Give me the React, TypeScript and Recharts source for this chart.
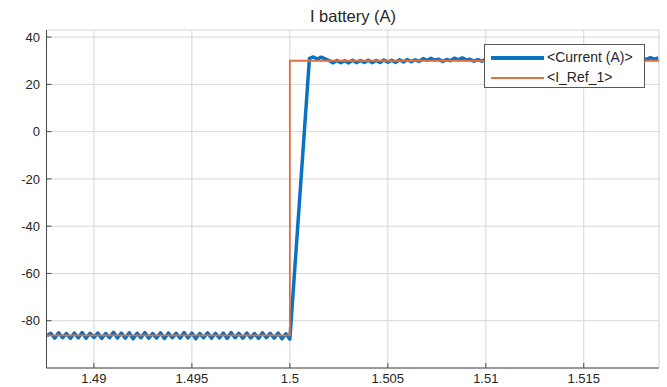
// App.tsx
// I battery (A): corriente medida vs referencia, estilo figura MATLAB
import React from "react";
import { LineChart, Line, XAxis, YAxis, CartesianGrid } from "recharts";

const BLUE = "#0b72c2";
const ORANGE = "#e2703e";
const AXIS = "#4a4a4a";
const GRID = "#d6d6d6";
const TEXT = "#262626";
const FONT = "'Liberation Sans', Arial, Helvetica, sans-serif";

// muestreo de la corriente (medio periodo del rizado)
const STEP = 0.0002;
const PRE_START = 1.4876;
const POST_START = 1.501;

// corriente antes del escalón, t = 1.4876 ... 1.5000
const preCurrent = [
    -86.4,
    -85.3, -87.4, -85.1, -87.2, -85.4, -87.5, -85.2, -87.3, -85.0, -87.4,
    -85.3, -87.1, -85.2, -87.5, -85.4, -87.2, -84.9, -87.3, -85.2, -87.4,
    -85.1, -87.6, -85.3, -87.2, -85.0, -87.4, -85.4, -87.3, -85.1, -87.5,
    -85.2, -87.2, -85.3, -87.4, -85.0, -87.3, -85.2, -87.6, -85.4, -87.2,
    -85.1, -87.4, -85.3, -87.3, -85.2, -87.5, -85.0, -87.2, -85.3, -87.4,
    -85.2, -87.3, -85.4, -87.5, -85.1, -87.2, -85.3, -87.4, -85.2, -87.6,
    -85.5, -87.8,
];

// corriente después de la rampa, t = 1.5010 ... 1.5188
const postCurrent = [
    31.0, 31.6, 30.7, 31.5, 30.8,
    30.1, 29.1, 30.1, 29.2, 30.0, 29.1, 30.2, 29.2, 30.1, 29.3,
    30.2, 29.2, 30.1, 29.3, 30.3, 29.4, 30.2, 29.3, 30.4, 29.5,
    30.5, 29.6, 30.4, 29.7, 30.9, 30.2, 31.0, 30.3, 30.6, 29.7,
    30.5, 30.0, 31.1, 30.4, 31.2, 30.3, 30.6, 29.8, 30.5, 29.8,
    30.6, 29.9, 30.5, 29.8, 30.7, 30.0, 30.6, 29.9, 30.8, 30.1,
    30.7, 30.0, 30.9, 30.2, 30.8, 30.1, 30.9, 30.2, 31.0, 30.3,
    30.9, 30.2, 31.0, 30.3, 30.9, 30.4, 31.1, 30.3, 31.0, 30.4,
    31.1, 30.5, 31.0, 30.4, 31.2, 30.5, 31.1, 30.6, 31.3, 30.5,
    31.2, 30.6, 31.3, 30.7, 31.2,
];

// referencia I_Ref_1
const refTimes = [1.4875, 1.5, 1.5, 1.519];
const refValues = [-86.2, -86.2, 30, 30];

const xTicks = [1.49, 1.495, 1.5, 1.505, 1.51, 1.515];
const yTicks = [-80, -60, -40, -20, 0, 20, 40];
const X_DOMAIN: [number, number] = [1.48758, 1.51884];
const Y_DOMAIN: [number, number] = [-100, 43];

const seriesNames = ["<Current (A)>", "<I_Ref_1>"];
const seriesColors = [BLUE, ORANGE];
const seriesWidths = [4, 2];

const currentData = [
    ...preCurrent.map((v, i) => ({ t: PRE_START + i * STEP, v })),
    ...postCurrent.map((v, i) => ({ t: POST_START + i * STEP, v })),
];
const refData = refTimes.map((t, i) => ({ t, v: refValues[i] }));

const tickStyle = { fill: TEXT, fontSize: 13, fontFamily: FONT };

export default function App() {
    return (
        <div style={{ position: "absolute", left: 0, top: 0, width: 667, height: 387, background: "#fff" }}>
            <div
                style={{
                    position: "absolute", left: 253, top: 6, width: 200, textAlign: "center",
                    fontFamily: FONT, fontSize: 16.5, color: TEXT, lineHeight: "20px",
                }}
            >
                I battery (A)
            </div>

            <LineChart width={667} height={387} margin={{ top: 30, right: 8, bottom: 0, left: 0 }}>
                <CartesianGrid stroke={GRID} strokeWidth={1} />
                <XAxis
                    type="number" dataKey="t" domain={X_DOMAIN} allowDataOverflow ticks={xTicks}
                    tickFormatter={(v: number) => String(v)} height={19}
                    stroke={AXIS} tickSize={-5} tickMargin={11} tick={tickStyle}
                />
                <XAxis
                    xAxisId="top" orientation="top" type="number" dataKey="t" domain={X_DOMAIN}
                    allowDataOverflow ticks={xTicks} height={0} stroke={AXIS} tickSize={-5} tick={false}
                />
                <YAxis
                    type="number" domain={Y_DOMAIN} allowDataOverflow ticks={yTicks} width={46.5}
                    stroke={AXIS} tickSize={-5} tickMargin={11.5} tick={tickStyle}
                />
                <YAxis
                    yAxisId="right" orientation="right" type="number" domain={Y_DOMAIN}
                    allowDataOverflow ticks={yTicks} width={0} stroke={AXIS} tickSize={-5} tick={false}
                />
                <Line
                    data={currentData} dataKey="v" type="linear" stroke={BLUE} strokeWidth={3.5}
                    dot={false} strokeLinejoin="round" isAnimationActive={false}
                />
                <Line
                    data={refData} dataKey="v" type="linear" stroke={ORANGE} strokeWidth={1.8}
                    dot={false} isAnimationActive={false}
                />
            </LineChart>

            <div
                style={{
                    position: "absolute", left: 484, top: 44, width: 159, height: 42,
                    border: "1px solid #5a5a5a", background: "#fff", fontFamily: FONT, fontSize: 14, color: TEXT,
                }}
            >
                {seriesNames.map((name, i) => (
                    <div key={name} style={{ position: "absolute", left: 0, top: 3 + i * 19.5, height: 19, width: 159 }}>
                        <div
                            style={{
                                position: "absolute", left: 6, top: 10 - seriesWidths[i] / 2, width: 53,
                                height: seriesWidths[i], background: seriesColors[i],
                            }}
                        />
                        <span style={{ position: "absolute", left: 62, top: 1, lineHeight: "17px" }}>{name}</span>
                    </div>
                ))}
            </div>
        </div>
    );
}
